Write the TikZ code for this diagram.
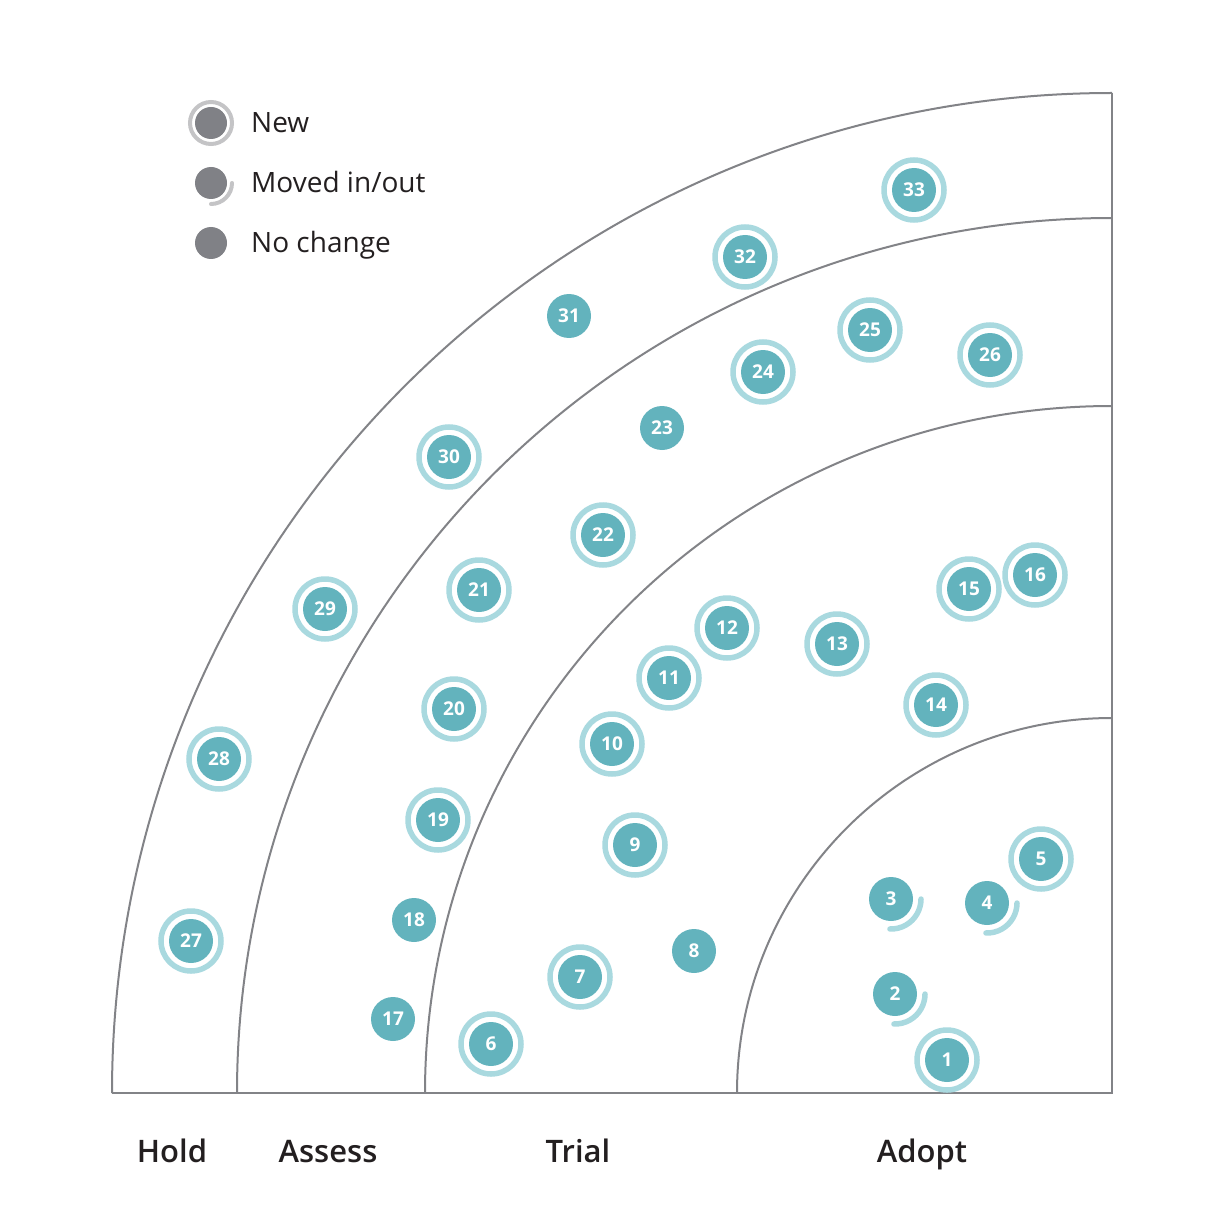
\documentclass[tikz,border=0pt]{standalone}
\usepackage{fontspec}
\setmainfont{Open Sans}
\newfontfamily\labelfont{Open Sans Semibold}
\usepackage{tikz}
\usetikzlibrary{positioning}
\definecolor{radargray}{HTML}{828387}
\definecolor{blipteal}{HTML}{63B3BD}
\definecolor{blipring}{HTML}{A9D9DF}
\definecolor{legendgray}{HTML}{808186}
\definecolor{legendring}{HTML}{C4C4C6}
\definecolor{textdark}{HTML}{231F20}
\tikzset{ringline/.style = {draw=radargray, line width=2pt}}
\tikzset{blip/.style = {circle, fill=blipteal, text=white, inner sep=0, minimum size=44,
                        font=\bfseries\fontsize{19}{19}\selectfont}}
\tikzset{newring/.style = {draw=blipring, line width=5.5pt}}
\tikzset{movedring/.style = {draw=blipring, line width=5.5pt, line cap=round}}
\tikzset{legenddot/.style = {circle, fill=legendgray, inner sep=0, minimum size=32}}
\tikzset{legendtext/.style = {anchor=base west, inner sep=0, text=textdark, font=\fontsize{28}{28}\selectfont}}
\tikzset{ringlabel/.style = {anchor=base, text=textdark, inner sep=0, font=\labelfont\fontsize{31}{31}\selectfont}}

\begin{document}
\begin{tikzpicture}[x=1pt, y=-1pt]
      \useasboundingbox (0, 0) rectangle (1222, 1214);

      \coordinate (c) at (1112, 1093);
      \draw [ringline] (112, 1093) arc [start angle=180, end angle=270, radius=1000];
      \draw [ringline] (237, 1093) arc [start angle=180, end angle=270, radius=875];
      \draw [ringline] (425, 1093) arc [start angle=180, end angle=270, radius=687];
      \draw [ringline] (737, 1093) arc [start angle=180, end angle=270, radius=375];
      \draw [ringline] (112, 1093) -- (c) -- (1112, 93);

      \node (hold) at (172, 1162) [ringlabel] {Hold};
      \node (assess) at (328, 1162) [ringlabel] {Assess};
      \node (trial) at (578, 1162) [ringlabel] {Trial};
      \node (adopt) at (922, 1162) [ringlabel] {Adopt};

      \node (lnew) at (211, 123) [legenddot] {};
      \draw [legendring, line width=4pt] (lnew) circle (21);
      \node at (251, 133) [legendtext] {New};
      \node (lmoved) at (211, 183) [legenddot] {};
      \draw [legendring, line width=4pt, line cap=round] (lmoved) ++(21, 0) arc [start angle=0, end angle=90, radius=21];
      \node at (251, 193) [legendtext] {Moved in/out};
      \node (lsame) at (211, 243) [legenddot] {};
      \node at (251, 253) [legendtext] {No change};

      \node (b1) at (947, 1060) [blip] {1};
      \draw [newring] (b1) circle (30);
      \node (b2) at (895, 994) [blip] {2};
      \draw [movedring] (b2) ++(30, 0) arc [start angle=0, end angle=92, radius=30];
      \node (b3) at (891, 899) [blip] {3};
      \draw [movedring] (b3) ++(30, 0) arc [start angle=0, end angle=92, radius=30];
      \node (b4) at (987, 903) [blip] {4};
      \draw [movedring] (b4) ++(30, 0) arc [start angle=0, end angle=92, radius=30];
      \node (b5) at (1041, 859) [blip] {5};
      \draw [newring] (b5) circle (30);

      \node (b6) at (491, 1044) [blip] {6};
      \draw [newring] (b6) circle (30);
      \node (b7) at (580, 977) [blip] {7};
      \draw [newring] (b7) circle (30);
      \node (b8) at (694, 951) [blip] {8};
      \node (b9) at (635, 845) [blip] {9};
      \draw [newring] (b9) circle (30);
      \node (b10) at (612, 744) [blip] {10};
      \draw [newring] (b10) circle (30);
      \node (b11) at (669, 678) [blip] {11};
      \draw [newring] (b11) circle (30);
      \node (b12) at (727, 628) [blip] {12};
      \draw [newring] (b12) circle (30);
      \node (b13) at (837, 644) [blip] {13};
      \draw [newring] (b13) circle (30);
      \node (b14) at (936, 705) [blip] {14};
      \draw [newring] (b14) circle (30);
      \node (b15) at (969, 589) [blip] {15};
      \draw [newring] (b15) circle (30);
      \node (b16) at (1035, 575) [blip] {16};
      \draw [newring] (b16) circle (30);

      \node (b17) at (393, 1019) [blip] {17};
      \node (b18) at (414, 920) [blip] {18};
      \node (b19) at (438, 820) [blip] {19};
      \draw [newring] (b19) circle (30);
      \node (b20) at (454, 709) [blip] {20};
      \draw [newring] (b20) circle (30);
      \node (b21) at (479, 590) [blip] {21};
      \draw [newring] (b21) circle (30);
      \node (b22) at (603, 535) [blip] {22};
      \draw [newring] (b22) circle (30);
      \node (b23) at (662, 428) [blip] {23};
      \node (b24) at (763, 372) [blip] {24};
      \draw [newring] (b24) circle (30);
      \node (b25) at (870, 330) [blip] {25};
      \draw [newring] (b25) circle (30);
      \node (b26) at (990, 355) [blip] {26};
      \draw [newring] (b26) circle (30);

      \node (b27) at (191, 941) [blip] {27};
      \draw [newring] (b27) circle (30);
      \node (b28) at (219, 759) [blip] {28};
      \draw [newring] (b28) circle (30);
      \node (b29) at (325, 609) [blip] {29};
      \draw [newring] (b29) circle (30);
      \node (b30) at (449, 457) [blip] {30};
      \draw [newring] (b30) circle (30);
      \node (b31) at (569, 316) [blip] {31};
      \node (b32) at (745, 257) [blip] {32};
      \draw [newring] (b32) circle (30);
      \node (b33) at (914, 190) [blip] {33};
      \draw [newring] (b33) circle (30);
    \end{tikzpicture}
\end{document}
